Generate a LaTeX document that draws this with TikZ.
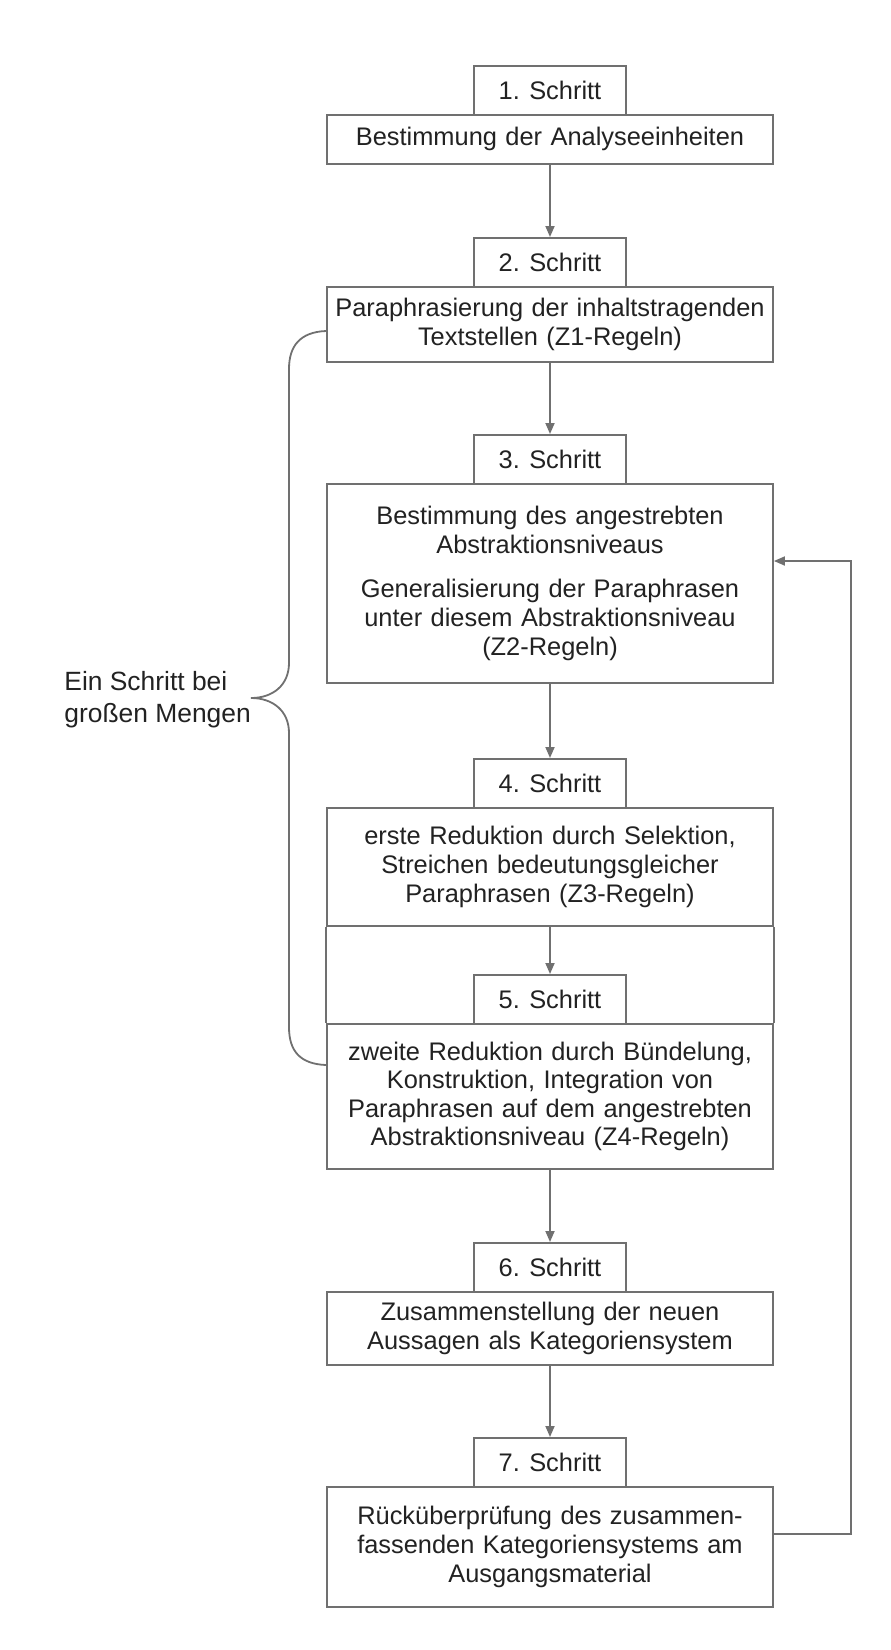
\documentclass[tikz,border=0pt]{standalone}
\usepackage{fontspec}
\setmainfont{Liberation Sans}
\usetikzlibrary{arrows.meta}
\definecolor{linec}{HTML}{707070}
\definecolor{textc}{HTML}{222222}
\begin{document}
\begin{tikzpicture}[x=0.5pt,y=-0.5pt,
  txt/.style={font=\fontsize{12.7}{14.3}\selectfont, text=textc},
  stepbox/.style={txt, draw=linec, line width=0.9pt, fill=white, minimum width=76pt, minimum height=24.5pt, inner sep=0pt, anchor=north},
  mainbox/.style={txt, draw=linec, line width=0.9pt, fill=white, minimum width=223pt, text width=221pt, align=center, inner sep=0pt, anchor=north, minimum height=#1},
  ln/.style={draw=linec, line width=0.9pt},
  arr/.style={ln, -{Triangle[length=5.5pt,width=4.5pt]}}]
\useasboundingbox (0,0) rectangle (890,1650);

% main boxes
\node[mainbox=24.5pt] (b1) at (550,114)  {Bestimmung der Analyseeinheiten};
\node[mainbox=37.5pt] (b2) at (550,286)  {Paraphrasierung der inhaltstragenden\\Textstellen (Z1-Regeln)};
\node[mainbox=99.5pt] (b3) at (550,483)  {Bestimmung des angestrebten\\Abstraktionsniveaus\\[8pt]Generalisierung der Paraphrasen\\unter diesem Abstraktionsniveau\\(Z2-Regeln)};
\node[mainbox=59pt]   (b4) at (550,807)  {erste Reduktion durch Selektion,\\Streichen bedeutungsgleicher\\Paraphrasen (Z3-Regeln)};
\node[mainbox=72.5pt] (b5) at (550,1023) {zweite Reduktion durch Bündelung,\\Konstruktion, Integration von\\Paraphrasen auf dem angestrebten\\Abstraktionsniveau (Z4-Regeln)};
\node[mainbox=36.5pt] (b6) at (550,1291) {Zusammenstellung der neuen\\Aussagen als Kategoriensystem};
\node[mainbox=60pt]   (b7) at (550,1486) {Rücküberprüfung des zusammen-\\fassenden Kategoriensystems am\\Ausgangsmaterial};

% step boxes
\node[stepbox] (s1) at (550,65)   {1. Schritt};
\node[stepbox] (s2) at (550,237)  {2. Schritt};
\node[stepbox] (s3) at (550,434)  {3. Schritt};
\node[stepbox] (s4) at (550,758)  {4. Schritt};
\node[stepbox] (s5) at (550,974)  {5. Schritt};
\node[stepbox] (s6) at (550,1242) {6. Schritt};
\node[stepbox] (s7) at (550,1437) {7. Schritt};

% arrows
\draw[arr] (b1) -- (s2);
\draw[arr] (b2) -- (s3);
\draw[arr] (b3) -- (s4);
\draw[arr] (b4) -- (s5);
\draw[arr] (b5) -- (s6);
\draw[arr] (b6) -- (s7);

% frame joining steps 4 and 5
\draw[ln] (b4.south west) -- (b5.north west);
\draw[ln] (b4.south east) -- (b5.north east);

% feedback loop
\coordinate (fbA) at (851,1534);
\coordinate (fbB) at (851,561);
\draw[arr] (b7.east |- fbA) -- (fbA) -- (fbB) -- (b3.east |- fbB);

% brace
\coordinate (brT) at (0,331);
\coordinate (brB) at (0,1065);
\draw[ln] (b2.west |- brT) .. controls (300,332) and (289,346) .. (289,369)
  -- (289,663) .. controls (289,685) and (273,698) .. (251,698)
  .. controls (273,698) and (289,711) .. (289,733)
  -- (289,1027) .. controls (289,1051) and (300,1064) .. (b5.west |- brB);

\node[font=\fontsize{13.2}{16}\selectfont, text=textc, inner sep=0pt, anchor=west, align=left] (lab) at (64,700) {Ein Schritt bei\\großen Mengen};
\end{tikzpicture}
\end{document}
